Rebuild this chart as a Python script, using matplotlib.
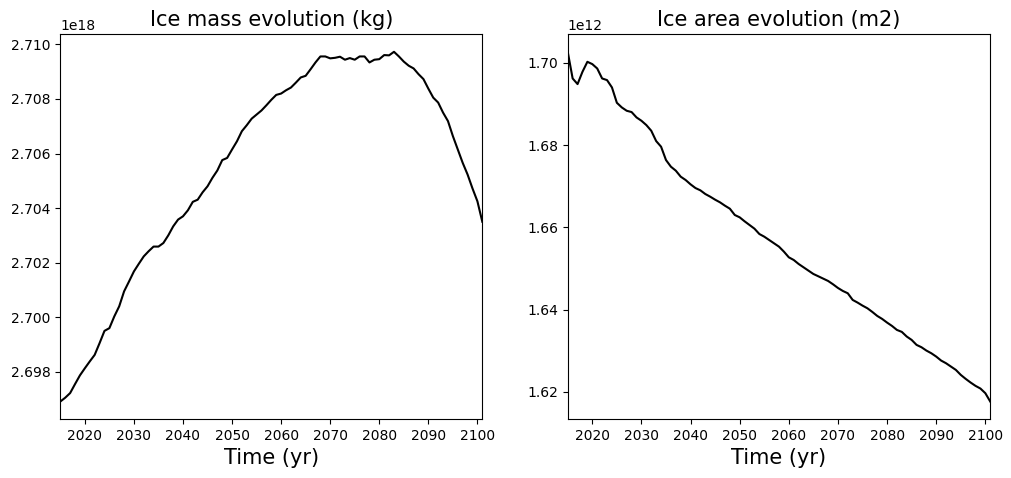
import matplotlib
matplotlib.use("Agg")
import matplotlib.pyplot as plt
import numpy as np

years = list(range(2015, 2102))

ice_mass = [
    2.69691, 2.69705, 2.69722, 2.69755, 2.69787, 2.69813, 2.69838, 2.69862, 2.69905, 2.69950,
    2.69960, 2.70003, 2.70040, 2.70095, 2.70131, 2.70168, 2.70196, 2.70223, 2.70242, 2.70259,
    2.70259, 2.70272, 2.70300, 2.70333, 2.70358, 2.70370, 2.70392, 2.70423, 2.70431, 2.70458,
    2.70480, 2.70511, 2.70538, 2.70576, 2.70584, 2.70615, 2.70645, 2.70682, 2.70704, 2.70728,
    2.70743, 2.70758, 2.70777, 2.70797, 2.70815, 2.70820, 2.70832, 2.70842, 2.70860, 2.70879,
    2.70885, 2.70909, 2.70934, 2.70956, 2.70956, 2.70949, 2.70951, 2.70955, 2.70944, 2.70950,
    2.70944, 2.70956, 2.70956, 2.70934, 2.70944, 2.70946, 2.70961, 2.70960, 2.70973, 2.70956,
    2.70937, 2.70922, 2.70912, 2.70891, 2.70873, 2.70838, 2.70805, 2.70787, 2.70750, 2.70719,
    2.70664, 2.70615, 2.70566, 2.70523, 2.70472, 2.70425, 2.70350,
]

ice_area = [
    1.70267, 1.69619, 1.69482, 1.69781, 1.70024, 1.69968, 1.69862, 1.69619, 1.69579, 1.69401,
    1.69028, 1.68915, 1.68834, 1.68802, 1.68672, 1.68591, 1.68486, 1.68348, 1.68097, 1.67960,
    1.67636, 1.67474, 1.67377, 1.67231, 1.67150, 1.67045, 1.66955, 1.66899, 1.66810, 1.66745,
    1.66672, 1.66607, 1.66526, 1.66453, 1.66300, 1.66243, 1.66146, 1.66057, 1.65968, 1.65838,
    1.65773, 1.65692, 1.65611, 1.65530, 1.65409, 1.65271, 1.65206, 1.65109, 1.65028, 1.64947,
    1.64866, 1.64810, 1.64753, 1.64696, 1.64615, 1.64526, 1.64453, 1.64397, 1.64235, 1.64170,
    1.64097, 1.64032, 1.63943, 1.63846, 1.63773, 1.63684, 1.63603, 1.63506, 1.63458, 1.63345,
    1.63263, 1.63142, 1.63085, 1.63004, 1.62939, 1.62858, 1.62761, 1.62696, 1.62615, 1.62534,
    1.62413, 1.62316, 1.62227, 1.62146, 1.62081, 1.61968, 1.61765,
]

mass = np.array(ice_mass) * 1e18
area = np.array(ice_area) * 1e12

fig = plt.figure(figsize=(10.12, 4.78), dpi=100)
ax1 = fig.add_axes([0.0596, 0.1234, 0.417, 0.8048])
ax2 = fig.add_axes([0.561, 0.1234, 0.4175, 0.8048])

ax1.plot(years, mass, color="black", lw=1.5)
ax1.set_title("Ice mass evolution (kg)", fontsize=15)
ax1.set_xlabel("Time (yr)", fontsize=15)
ax1.set_xlim(2015, 2101)

ax2.plot(years, area, color="black", lw=1.5)
ax2.set_title("Ice area evolution (m2)", fontsize=15)
ax2.set_xlabel("Time (yr)", fontsize=15)
ax2.set_xlim(2015, 2101)

fig.savefig("out.png", dpi=100)
